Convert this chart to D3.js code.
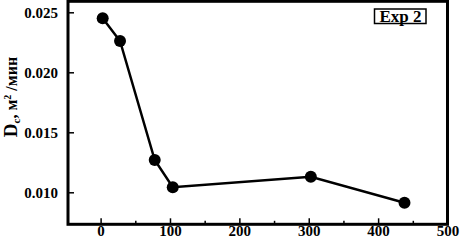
<!DOCTYPE html>
<html>
<head>
<meta charset="utf-8">
<script src="https://cdn.jsdelivr.net/npm/d3@7"></script>
<style>
  body { margin: 0; background: #fff; }
  text { font-family: "Liberation Serif", "Times New Roman", serif; font-weight: bold; }
</style>
</head>
<body>
<div id="chart"></div>
<script>
// data
const timeValues = [3, 28, 78, 104, 303, 438];
const dcValues = [0.0245, 0.02261, 0.01269, 0.01042, 0.0113, 0.00913];
const xTicks = [0, 100, 200, 300, 400, 500];
const xMinorTicks = [50, 150, 250, 350, 450];
const yTicks = [0.010, 0.015, 0.020, 0.025];

const svgWidth = 460, svgHeight = 244;

let svg = d3.select('#chart')
    .append('svg')
    .attr('width', svgWidth)
    .attr('height', svgHeight);

let xScale = d3.scaleLinear()
    .domain([-47, 500])
    .range([68, 447.5]);

let yScale = d3.scaleLinear()
    .domain([0.007333, 0.025917])
    .range([224.3, 1.3]);

let data = timeValues.map((t, i) => ({t: t, v: dcValues[i]}));

// inward ticks, bottom axis
let xAxis = svg.append('g')
    .attr('transform', `translate(0,${yScale.range()[0]})`)
    .call(d3.axisBottom(xScale).tickValues(xTicks).tickSizeInner(-6).tickSizeOuter(0).tickPadding(1.5)
        .tickFormat(d3.format('d')));
xAxis.select('.domain').remove();
xAxis.selectAll('line').attr('stroke-width', 1.5);
xAxis.selectAll('text').attr('font-size', 15).attr('fill', '#000');

svg.append('g')
    .attr('transform', `translate(0,${yScale.range()[0]})`)
    .call(d3.axisBottom(xScale).tickValues(xMinorTicks).tickSizeInner(-3.5).tickSizeOuter(0).tickFormat(''))
    .call(g => g.select('.domain').remove())
    .selectAll('line').attr('stroke-width', 1.5);

let yAxis = svg.append('g')
    .attr('transform', `translate(${xScale.range()[0]},0)`)
    .call(d3.axisLeft(yScale).tickValues(yTicks).tickSizeInner(-6).tickSizeOuter(0).tickPadding(10)
        .tickFormat(d3.format('.3f')));
yAxis.select('.domain').remove();
yAxis.selectAll('line').attr('stroke-width', 1.5);
yAxis.selectAll('text').attr('font-size', 15).attr('fill', '#000');

// frame
svg.append('rect')
    .attr('x', xScale.range()[0])
    .attr('y', yScale.range()[1])
    .attr('width', xScale.range()[1] - xScale.range()[0])
    .attr('height', yScale.range()[0] - yScale.range()[1])
    .attr('fill', 'none')
    .attr('stroke', '#000')
    .attr('stroke-width', 3);

let line = d3.line()
    .x(d => xScale(d.t))
    .y(d => yScale(d.v));

svg.append('path')
    .datum(data)
    .attr('d', line)
    .attr('fill', 'none')
    .attr('stroke', '#000')
    .attr('stroke-width', 2.5);

svg.selectAll('circle')
    .data(data)
    .join('circle')
    .attr('cx', d => xScale(d.t))
    .attr('cy', d => yScale(d.v))
    .attr('r', 6)
    .attr('fill', '#000');

// legend box
svg.append('rect')
    .attr('x', 374.5)
    .attr('y', 9)
    .attr('width', 51.5)
    .attr('height', 14.5)
    .attr('fill', '#fff')
    .attr('stroke', '#000')
    .attr('stroke-width', 1.5);

svg.append('text')
    .attr('x', 400.5)
    .attr('y', 21.5)
    .attr('text-anchor', 'middle')
    .attr('font-size', 17)
    .text('Exp 2');

// y label
let ylab = svg.append('text')
    .attr('transform', 'translate(16.5,97) rotate(-90)')
    .attr('text-anchor', 'middle')
    .attr('font-size', 16);
ylab.append('tspan').attr('font-size', 19).text('D');
ylab.append('tspan').attr('font-size', 11).attr('dy', 3).text('c');
ylab.append('tspan').attr('dy', -3).text(', м');
ylab.append('tspan').attr('font-size', 10).attr('dy', -6).text('2');
ylab.append('tspan').attr('dy', 6).text(' /мин');
</script>
</body>
</html>
